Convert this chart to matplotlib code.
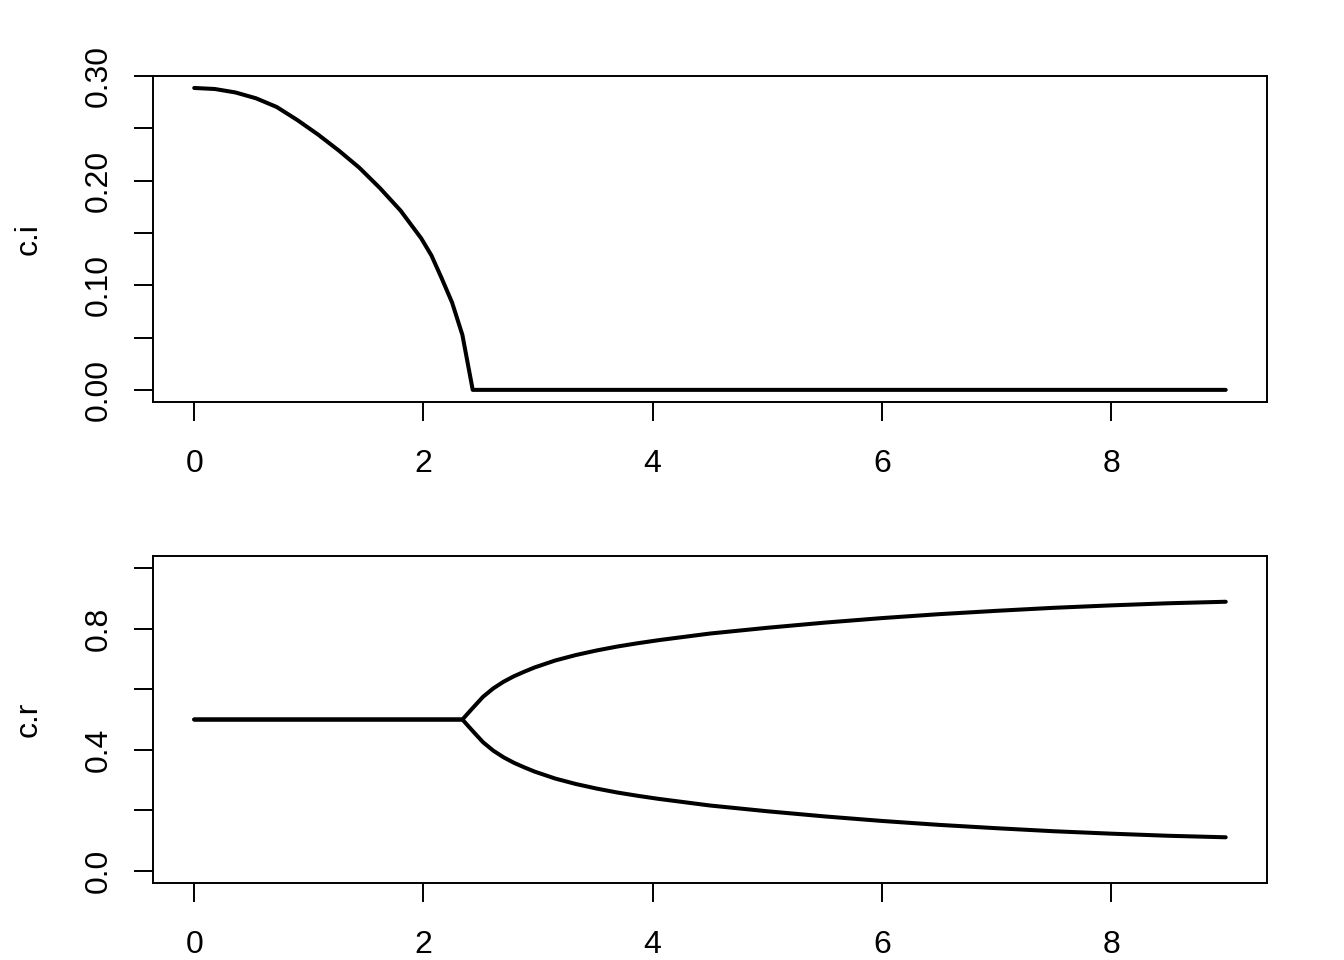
import numpy as np
import matplotlib
matplotlib.use("Agg")
import matplotlib.pyplot as plt

plt.rcParams['font.family'] = ['Liberation Sans', 'DejaVu Sans']

# top panel: c.i
x_ci = [0.0, 0.18, 0.36, 0.54, 0.72, 0.90, 1.08, 1.26, 1.44, 1.62, 1.80,
        1.98, 2.07, 2.16, 2.25, 2.34, 2.43, 9.0]
ci = [0.2887, 0.2877, 0.2844, 0.2788, 0.2705, 0.2580, 0.2442, 0.2290, 0.2125,
      0.1930, 0.1715, 0.1450, 0.1285, 0.1065, 0.0835, 0.0525, 0.0, 0.0]

# bottom panel: c.r, two branches
x_cr = [0.0, 2.34, 2.43, 2.52, 2.61, 2.70, 2.79, 2.88, 2.97, 3.15, 3.33, 3.51,
        3.69, 3.87, 4.05, 4.5, 5.0, 5.5, 6.0, 6.5, 7.0, 7.5, 8.0, 8.5, 9.0]
cr_upper = [0.5, 0.500, 0.538, 0.575, 0.603, 0.625, 0.643, 0.658, 0.672, 0.695,
            0.713, 0.728, 0.741, 0.752, 0.762, 0.784, 0.803, 0.820, 0.835,
            0.848, 0.859, 0.869, 0.877, 0.884, 0.889]
cr_lower = [0.5, 0.500, 0.462, 0.425, 0.397, 0.375, 0.357, 0.342, 0.328, 0.305,
            0.287, 0.272, 0.259, 0.248, 0.238, 0.216, 0.197, 0.180, 0.165,
            0.152, 0.141, 0.131, 0.123, 0.116, 0.111]

x_ticks = [0, 2, 4, 6, 8]
ci_ticks = [0.0, 0.05, 0.10, 0.15, 0.20, 0.25, 0.30]
ci_labels = ['0.00', '', '0.10', '', '0.20', '', '0.30']
cr_ticks = [0.0, 0.2, 0.4, 0.6, 0.8, 1.0]
cr_labels = ['0.0', '', '0.4', '', '0.8', '']

fig = plt.figure(figsize=(13.44, 9.6), dpi=100)
ax1 = fig.add_axes([0.1138, 0.5813, 0.8289, 0.3396])
ax2 = fig.add_axes([0.1138, 0.0802, 0.8289, 0.3406])

fs = 23
lw_data = 2.9

def style(ax, yticks, ylabels, ylabel):
    ax.set_xlim(-0.36, 9.36)
    ax.set_xticks(x_ticks)
    ax.set_xticklabels([str(t) for t in x_ticks])
    ax.set_yticks(yticks)
    ax.set_yticklabels(ylabels, rotation=90, va='center')
    ax.tick_params(axis='both', direction='out', length=14, width=1.4,
                   labelsize=fs, color='black')
    ax.tick_params(axis='x', pad=20)
    ax.tick_params(axis='y', pad=14)
    for s in ax.spines.values():
        s.set_linewidth(1.4)
    ax.set_ylabel(ylabel, fontsize=fs, labelpad=29)

ax1.plot(x_ci, ci, color='black', lw=lw_data, solid_capstyle='round')
ax1.set_ylim(-0.01155, 0.3002)
style(ax1, ci_ticks, ci_labels, 'c.i')

ax2.plot(x_cr, cr_upper, color='black', lw=lw_data, solid_capstyle='round')
ax2.plot(x_cr, cr_lower, color='black', lw=lw_data, solid_capstyle='round')
ax2.set_ylim(-0.04, 1.04)
style(ax2, cr_ticks, cr_labels, 'c.r')

fig.savefig('out.png', dpi=100)
